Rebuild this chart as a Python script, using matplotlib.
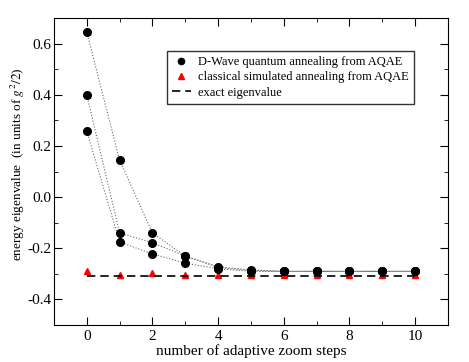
import matplotlib.pyplot as plt
from matplotlib.ticker import MultipleLocator

plt.rcParams['font.family'] = ['Liberation Serif', 'DejaVu Serif']
plt.rcParams['mathtext.fontset'] = 'stix'

steps = [0, 1, 2, 3, 4, 5, 6, 7, 8, 9, 10]
dwave_run1 = [0.645, 0.145, -0.14, -0.23, -0.272, -0.285, -0.29, -0.29, -0.29, -0.29, -0.29]
dwave_run2 = [0.40, -0.14, -0.178, -0.23, -0.275, -0.287, -0.29, -0.29, -0.29, -0.29, -0.29]
dwave_run3 = [0.258, -0.175, -0.222, -0.258, -0.28, -0.29, -0.29, -0.29, -0.29, -0.29, -0.29]
classical = [-0.29, -0.304, -0.297, -0.304, -0.304, -0.305, -0.305, -0.305, -0.305, -0.305, -0.305]
exact_value = -0.307

fig = plt.figure(figsize=(4.69, 3.62), dpi=100)
ax = fig.add_axes([0.115, 0.102, 0.840, 0.848])

for run in (dwave_run1, dwave_run2, dwave_run3):
    ax.plot(steps, run, linestyle=':', color='dimgray', linewidth=0.8, zorder=1)
    ax.plot(steps, run, linestyle='none', marker='o', color='black', markersize=5.5, zorder=3)

ax.plot([], [], linestyle='none', marker='o', color='black', markersize=4.5,
        label='D-Wave quantum annealing from AQAE')
ax.plot(steps, classical, linestyle='none', marker='^', color='red', markersize=5,
        zorder=2, label='classical simulated annealing from AQAE')
ax.plot([steps[0], steps[-1]], [exact_value, exact_value], linestyle='--', color='black',
        linewidth=1.2, dashes=(5, 3), zorder=2, label='exact eigenvalue')

ax.set_xlim(-1, 11)
ax.set_ylim(-0.5, 0.7)
ax.xaxis.set_major_locator(MultipleLocator(2))
ax.xaxis.set_minor_locator(MultipleLocator(1))
ax.yaxis.set_major_locator(MultipleLocator(0.2))
ax.yaxis.set_minor_locator(MultipleLocator(0.1))
ax.tick_params(which='both', direction='in', top=True, right=True, labelsize=11)
ax.tick_params(which='major', length=6)
ax.tick_params(which='minor', length=3)
ax.tick_params(axis='y', pad=2)
ax.set_yticks([-0.4, -0.2, 0.0, 0.2, 0.4, 0.6])
ax.set_yticklabels(['-0.4', '-0.2', '0.0', '0.2', '0.4', '0.6'])

ax.set_xlabel('number of adaptive zoom steps', fontsize=11, labelpad=1)
ax.set_ylabel('energy eigenvalue  (in units of $g^2/2$)', fontsize=9.5)
ax.yaxis.set_label_coords(-0.068, 0.524)

ax.legend(loc='upper right', bbox_to_anchor=(0.93, 0.912), fontsize=9, frameon=True,
          fancybox=False, edgecolor='black', handlelength=1.5, handletextpad=0.6,
          borderpad=0.4, labelspacing=0.25)

fig.savefig('out.png', dpi=100)
